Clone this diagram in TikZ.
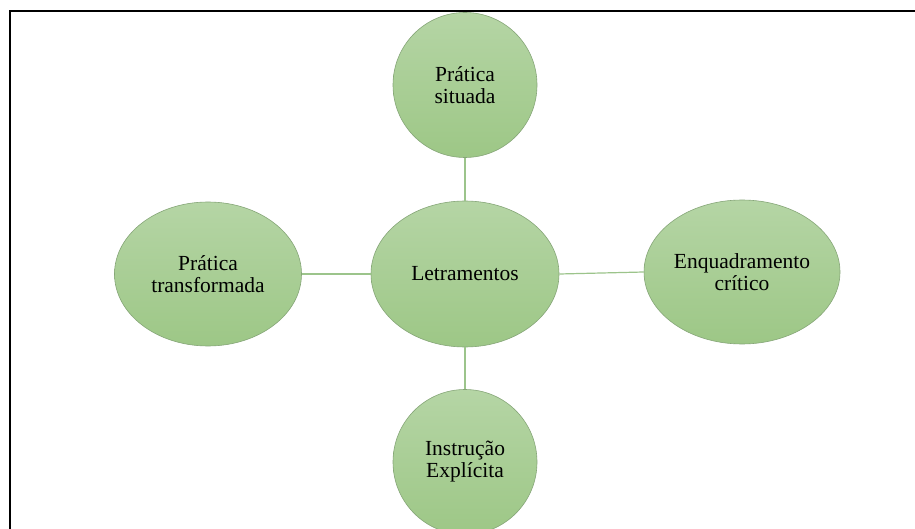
\documentclass[tikz,border=0pt]{standalone}
\usepackage{fontspec}
\setmainfont{Liberation Serif}
\usetikzlibrary{shapes.geometric}
\definecolor{fillTop}{HTML}{B5D5A5}
\definecolor{fillBot}{HTML}{9DC786}
\definecolor{edgeCol}{HTML}{86A678}
\definecolor{linkCol}{HTML}{9CC48B}
\tikzset{
  bubble/.style={ellipse, draw=edgeCol, line width=0.6pt, top color=fillTop, bottom color=fillBot,
    inner sep=0pt, align=center, text=black, font=\fontsize{21.5}{22}\selectfont},
  link/.style={draw=linkCol, line width=1.2pt},
  frameline/.style={draw=black, line width=2pt}
}
\begin{document}
\begin{tikzpicture}[x=1pt,y=-1pt]
\useasboundingbox (0,0) rectangle (915,529);
\clip (0,0) rectangle (915,529);
\fill[white] (0,0) rectangle (915,529);
\coordinate (fA) at (9.5,529);
\coordinate (fB) at (9.5,11);
\coordinate (fC) at (915,11);
\draw[frameline] (fA) -- (fB) -- (fC);
\node[bubble, minimum width=144pt, minimum height=145pt] (top) at (465,85) {Prática\\situada};
\node[bubble, minimum width=188pt, minimum height=146pt] (center) at (465,274) {Letramentos};
\node[bubble, minimum width=187pt, minimum height=144pt] (left) at (208,274) {Prática\\transformada};
\node[bubble, minimum width=196pt, minimum height=144pt] (right) at (742,272) {Enquadramento\\crítico};
\node[bubble, minimum width=144pt, minimum height=145pt] (bottom) at (465,462) {Instrução\\Explícita};
\draw[link] (top.south) -- (center.north);
\draw[link] (center.south) -- (bottom.north);
\draw[link] (left.east) -- (center.west);
\draw[link] (center.east) -- (right.west);
\end{tikzpicture}
\end{document}
